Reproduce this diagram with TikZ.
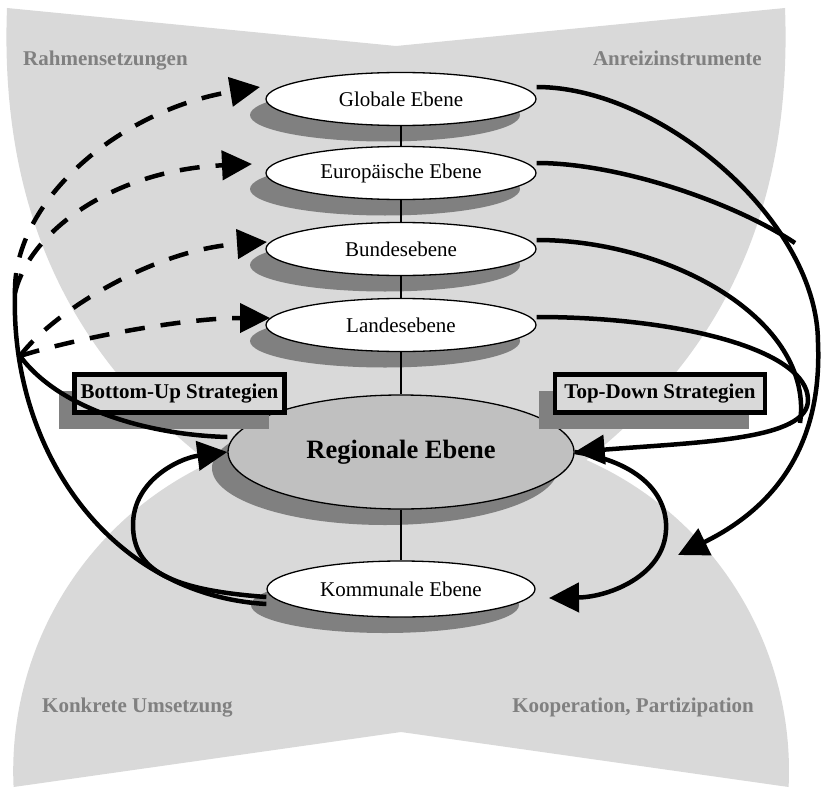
\documentclass[tikz,border=0pt]{standalone}
\usepackage{fontspec}
\setmainfont{Liberation Serif}
\usetikzlibrary{arrows.meta,shapes.geometric,shadows}
\definecolor{bgfill}{HTML}{D9D9D9}
\definecolor{shadefill}{HTML}{808080}
\definecolor{regfill}{HTML}{C0C0C0}
\definecolor{labelgray}{HTML}{808080}
\tikzset{
  dropshade/.style={general shadow={shadow xshift=-16pt, shadow yshift=-16pt, fill=shadefill}},
  tier/.style={ellipse, draw=black, line width=1.3pt, fill=white, inner sep=0pt,
    minimum width=270pt, minimum height=53pt, font=\fontsize{21}{25}\selectfont, dropshade},
  regional/.style={tier, fill=regfill, minimum width=346pt, minimum height=114pt,
    font=\bfseries\fontsize{26.5}{30}\selectfont},
  stratbox/.style={draw=black, line width=4.5pt, fill=bgfill, inner sep=0pt,
    minimum width=210pt, minimum height=38pt, font=\bfseries\fontsize{21}{25}\selectfont, dropshade},
  cornerlabel/.style={text=labelgray, inner sep=0pt, font=\bfseries\fontsize{21}{25}\selectfont},
  link/.style={line width=1.2pt},
  flow/.style={line width=4.5pt},
  dflow/.style={flow, dash pattern=on 20pt off 16pt},
  tip/.style={-{Triangle[length=30pt,width=29pt]}}
}
\begin{document}
\begin{tikzpicture}[x=1pt, y=-1pt]
\useasboundingbox (0,0) rectangle (821,789);

% light gray backdrop: upper fan and lower fan
\fill[bgfill] (7,8) -- (396,46) -- (785,8)
  .. controls (795,270) and (670,400) .. (560,480) -- (232,480)
  .. controls (122,400) and (-3,270) .. (7,8) -- cycle;
\fill[bgfill] (401,732) -- (788.6,787)
  arc[start angle=-2.7, end angle=98.1, radius=340pt]
  arc[start angle=81.9, end angle=182.7, radius=340pt] -- cycle;

% corner captions
\node[cornerlabel, anchor=base west] (rahmen) at (23,66) {Rahmensetzungen};
\node[cornerlabel, anchor=base east] (anreiz) at (762,66) {Anreizinstrumente};
\node[cornerlabel, anchor=base west] (konkret) at (42,712) {Konkrete Umsetzung};
\node[cornerlabel, anchor=base east] (koop) at (754,712) {Kooperation, Partizipation};

% the levels
\node[tier] (G) at (401,99) {Globale Ebene};
\node[tier] (E) at (401,173) {Europäische Ebene};
\node[tier] (B) at (401,249) {Bundesebene};
\node[tier] (L) at (401,325) {Landesebene};
\node[regional] (R) at (401,452) {Regionale Ebene};
\node[tier, minimum width=268pt, minimum height=56pt] (K) at (401,589) {Kommunale Ebene};

% vertical ties between the levels
\draw[link] (G.south) -- (E.north);
\draw[link] (E.south) -- (B.north);
\draw[link] (B.south) -- (L.north);
\draw[link] (L.south) -- (R.north);
\draw[link] (R.south) -- (K.north);

% strategy boxes
\node[stratbox] (bu) at (179.5,393.5) {Bottom-Up Strategien};
\node[stratbox] (td) at (660,393.5) {Top-Down Strategien};

% free ends and junctions
\coordinate (gtip) at (260,87);
\coordinate (etip) at (252,164);
\coordinate (btip) at (267,242);
\coordinate (ltip) at (270,318);
\coordinate (j1) at (15,293);
\coordinate (j2) at (20,356);
\coordinate (ktip) at (678,555);
\coordinate (kin) at (549,598);
\coordinate (emerge) at (795,243);
\coordinate (bmerge) at (800,423);

% top-down flows on the right
\draw[flow, tip] ([yshift=12pt]G.east) .. controls (660,87) and (818,220) .. (818,343)
  .. controls (822,440) and (780,505) .. (ktip);
\draw[flow] ([yshift=10pt]E.east) .. controls (620,163) and (735,203) .. (emerge);
\draw[flow] ([yshift=9pt]B.east) .. controls (670,240) and (815,320) .. (bmerge);
\draw[flow, tip] ([yshift=8pt]L.east) .. controls (680,317) and (808,350) .. (808,400)
  .. controls (808,440) and (700,442) .. (R.east);
\draw[flow, tip] (R.east) .. controls (640,462) and (668,495) .. (666,530)
  .. controls (664,575) and (610,597) .. (kin);

% bottom-up flows on the left
\draw[flow, tip] ([yshift=-8pt]K.west) .. controls (170,590) and (133,570) .. (133,525)
  .. controls (133,480) and (180,458) .. (R.west);
\draw[flow] ([yshift=-15pt]K.west) .. controls (110,595) and (10,450) .. (j1);
\draw[dflow, tip] (j1) .. controls (13,200) and (120,110) .. (gtip);
\draw[dflow, tip] (j1) .. controls (30,230) and (115,170) .. (etip);
\draw[flow] ([yshift=15pt]R.west) .. controls (150,435) and (60,410) .. (j2);
\draw[dflow, tip] (j2) .. controls (50,315) and (150,250) .. (btip);
\draw[dflow, tip] (j2) .. controls (70,340) and (180,318) .. (ltip);
\end{tikzpicture}
\end{document}
